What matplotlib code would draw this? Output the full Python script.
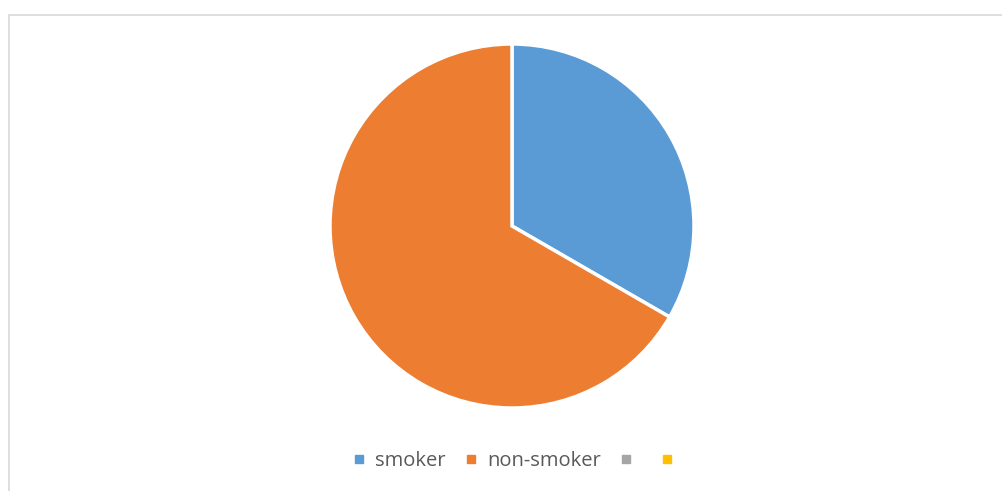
import matplotlib
matplotlib.use("Agg")
import matplotlib.pyplot as plt
from matplotlib.lines import Line2D
from matplotlib.patches import Rectangle

categories = ["smoker", "non-smoker", "", ""]
values = [1, 2, 0, 0]
colors = ["#5b9bd5", "#ed7d31", "#a5a5a5", "#ffc000"]

plt.rcParams['font.family'] = ['Open Sans', 'DejaVu Sans']

W, H = 1002, 491
fig = plt.figure(figsize=(W / 100, H / 100), dpi=100)

# border
fig.patches.append(Rectangle((8.5 / W, -0.2), 1.2, 1 - 14.5 / H + 0.2,
                             transform=fig.transFigure, fill=False,
                             edgecolor="#d9d9d9", lw=1.2, zorder=0))

cx, cy, r = 512, 226, 182
ax = fig.add_axes([(cx - r) / W, (H - cy - r) / H, 2 * r / W, 2 * r / H])
nz = [(v, c) for v, c in zip(values, colors) if v > 0]
ax.pie([v for v, _ in nz], colors=[c for _, c in nz], startangle=90,
       counterclock=False,
       wedgeprops=dict(edgecolor="white", linewidth=2.5))
ax.set_aspect("equal")
ax.set_xlim(-1.0, 1.0)
ax.set_ylim(-1.0, 1.0)
ax.axis("off")

handles = [Line2D([0], [0], marker="s", linestyle="none", markersize=6,
                  markerfacecolor=c, markeredgecolor=c) for c in colors]
fig.legend(handles, categories, loc="center", bbox_to_anchor=(518 / W, 1 - 461 / H),
           ncol=4, frameon=False, fontsize=14.5, labelcolor="#595959",
           handlelength=0.6, handletextpad=0.5, columnspacing=0.95)

fig.savefig("out.png", dpi=100)
